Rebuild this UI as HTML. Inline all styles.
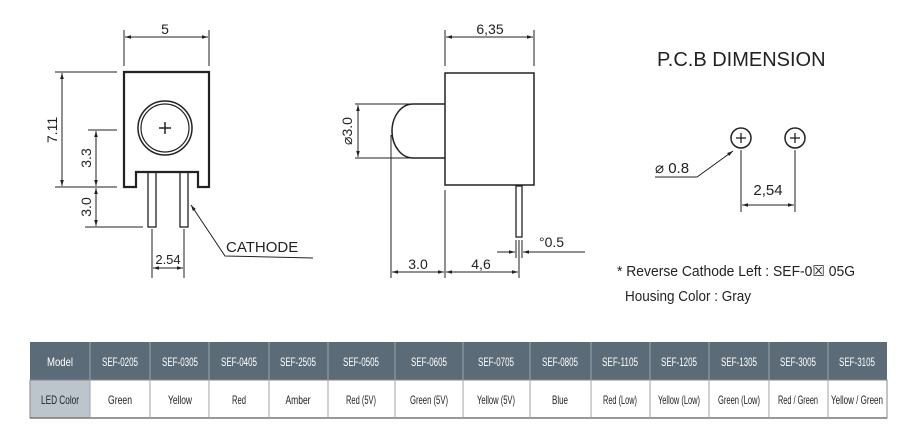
<!DOCTYPE html>
<html><head><meta charset="utf-8"><style>
html,body{margin:0;padding:0;background:#fff;width:907px;height:445px;overflow:hidden}
svg{display:block}
text{font-family:"Liberation Sans",sans-serif;fill:#222}
.t{font-family:"Liberation Sans Narrow","Liberation Sans",sans-serif}
</style></head><body>
<svg width="907" height="445" viewBox="0 0 907 445" xmlns="http://www.w3.org/2000/svg">
<defs>
<marker id="a" viewBox="0 0 10 10" refX="10" refY="5" markerWidth="8" markerHeight="6" orient="auto-start-reverse"><path d="M0,2 L10,5 L0,8 z" fill="#222"/></marker>
</defs>
<g stroke="#222" fill="none" stroke-width="1">
<!-- FRONT VIEW -->
<line x1="124" y1="30" x2="124" y2="66"/><line x1="209" y1="30" x2="209" y2="66"/>
<line x1="125" y1="37" x2="208" y2="37" marker-start="url(#a)" marker-end="url(#a)"/>
<path d="M124,72 H209 V187 H198 V172 H136 V187 H124 Z" stroke-width="2.2"/>
<circle cx="165" cy="128" r="27" stroke-width="1.5"/><circle cx="165" cy="128" r="24" stroke-width="1.2"/>
<line x1="159" y1="128" x2="171" y2="128" stroke-width="1.5"/><line x1="165" y1="122" x2="165" y2="134" stroke-width="1.5"/>
<rect x="148" y="172" width="8" height="55" stroke-width="1.3"/><rect x="180" y="172" width="8" height="55" stroke-width="1.3"/>
<line x1="55" y1="72" x2="117" y2="72"/><line x1="55" y1="187" x2="117" y2="187"/>
<line x1="62" y1="73" x2="62" y2="186" marker-start="url(#a)" marker-end="url(#a)"/>
<line x1="88" y1="130" x2="117" y2="130"/>
<line x1="96" y1="131" x2="96" y2="186" marker-start="url(#a)" marker-end="url(#a)"/>
<line x1="85" y1="227" x2="143" y2="227"/>
<line x1="96" y1="188" x2="96" y2="226" marker-start="url(#a)" marker-end="url(#a)"/>
<line x1="152" y1="229" x2="152" y2="278"/><line x1="184" y1="229" x2="184" y2="278"/>
<line x1="153" y1="268" x2="183" y2="268" marker-start="url(#a)" marker-end="url(#a)"/>
<polyline points="191,205 225,256 313,258" marker-start="url(#a)"/>
<!-- SIDE VIEW -->
<line x1="445" y1="30" x2="445" y2="66"/><line x1="534" y1="30" x2="534" y2="66"/>
<line x1="446" y1="37" x2="533" y2="37" marker-start="url(#a)" marker-end="url(#a)"/>
<rect x="445" y="73" width="89" height="112" stroke-width="1.5"/>
<path d="M445,104 H413 A21,27 0 0 0 413,158 H445" stroke-width="1.5"/>
<rect x="516" y="186" width="6" height="51" stroke-width="1.3"/>
<line x1="355" y1="104" x2="413" y2="104"/><line x1="355" y1="158" x2="413" y2="158"/>
<line x1="358" y1="105" x2="358" y2="157" marker-start="url(#a)" marker-end="url(#a)"/>
<line x1="391" y1="135" x2="391" y2="278"/><line x1="445" y1="190" x2="445" y2="278"/>
<line x1="519" y1="240" x2="519" y2="278"/>
<line x1="392" y1="272" x2="444" y2="272" marker-start="url(#a)" marker-end="url(#a)"/>
<line x1="446" y1="272" x2="518" y2="272" marker-start="url(#a)" marker-end="url(#a)"/>
<line x1="516" y1="240" x2="516" y2="258"/><line x1="522" y1="240" x2="522" y2="258"/>
<line x1="497" y1="252" x2="515" y2="252" marker-end="url(#a)"/>
<line x1="585" y1="252" x2="523" y2="252" marker-end="url(#a)"/>
<!-- PCB -->
<circle cx="741" cy="138" r="10" stroke-width="1.5"/><circle cx="795" cy="138" r="10" stroke-width="1.5"/>
<line x1="736" y1="138" x2="746" y2="138" stroke-width="1.3"/><line x1="741" y1="133" x2="741" y2="143" stroke-width="1.3"/>
<line x1="790" y1="138" x2="800" y2="138" stroke-width="1.3"/><line x1="795" y1="133" x2="795" y2="143" stroke-width="1.3"/>
<line x1="741" y1="150" x2="741" y2="212"/><line x1="795" y1="150" x2="795" y2="212"/>
<line x1="742" y1="205" x2="794" y2="205" marker-start="url(#a)" marker-end="url(#a)"/>
<polyline points="655,177 697,177 733,151" marker-end="url(#a)"/>
</g>
<text x="165" y="34" font-size="14" text-anchor="middle">5</text>
<text x="0" y="0" font-size="14" transform="translate(57,130) rotate(-90)" text-anchor="middle">7.11</text>
<text x="0" y="0" font-size="14" transform="translate(91,158) rotate(-90)" text-anchor="middle">3.3</text>
<text x="0" y="0" font-size="14" transform="translate(91,207) rotate(-90)" text-anchor="middle">3.0</text>
<text x="168" y="264" font-size="13" text-anchor="middle">2.54</text>
<text x="226" y="252" font-size="15">CATHODE</text>
<text x="490" y="34" font-size="14" text-anchor="middle">6,35</text>
<text x="0" y="0" font-size="14" transform="translate(352,131) rotate(-90)" text-anchor="middle">⌀3.0</text>
<text x="418" y="269" font-size="14" text-anchor="middle">3.0</text>
<text x="481" y="269" font-size="14" text-anchor="middle">4,6</text>
<text x="539" y="247" font-size="14">°0.5</text>
<text x="657" y="66" font-size="20">P.C.B DIMENSION</text>
<text x="655" y="173" font-size="15">⌀ 0.8</text>
<text x="768" y="195" font-size="15" text-anchor="middle">2,54</text>
<text class="t" x="617" y="276" font-size="15" textLength="238" lengthAdjust="spacingAndGlyphs">* Reverse Cathode Left : SEF-0☒ 05G</text>
<text class="t" x="625" y="301" font-size="15" textLength="126" lengthAdjust="spacingAndGlyphs">Housing Color : Gray</text>
<!-- TABLE -->
<rect x="30" y="342" width="857" height="38" fill="#5b6b77"/>
<rect x="30" y="380" width="60" height="38" fill="#bcc5cc"/>
<rect x="30" y="380" width="857" height="38" fill="none" stroke="#888" stroke-width="1"/>
<line x1="30" y1="418" x2="887" y2="418" stroke="#777" stroke-width="1.5"/>
<g stroke="#9aa5ad" stroke-width="1">
<line x1="90" y1="342" x2="90" y2="418"/><line x1="150" y1="342" x2="150" y2="418"/><line x1="209" y1="342" x2="209" y2="418"/><line x1="269" y1="342" x2="269" y2="418"/><line x1="328" y1="342" x2="328" y2="418"/><line x1="395" y1="342" x2="395" y2="418"/><line x1="463" y1="342" x2="463" y2="418"/><line x1="530" y1="342" x2="530" y2="418"/><line x1="591" y1="342" x2="591" y2="418"/><line x1="650" y1="342" x2="650" y2="418"/><line x1="709" y1="342" x2="709" y2="418"/><line x1="769" y1="342" x2="769" y2="418"/><line x1="828" y1="342" x2="828" y2="418"/>
</g>
<g class="t" font-size="12" text-anchor="middle" style="fill:#fff">
<text x="60" y="366" style="fill:#fff" textLength="26" lengthAdjust="spacingAndGlyphs">Model</text>
<text x="120" y="366" style="fill:#fff" textLength="36" lengthAdjust="spacingAndGlyphs">SEF-0205</text>
<text x="180" y="366" style="fill:#fff" textLength="36" lengthAdjust="spacingAndGlyphs">SEF-0305</text>
<text x="239" y="366" style="fill:#fff" textLength="36" lengthAdjust="spacingAndGlyphs">SEF-0405</text>
<text x="298" y="366" style="fill:#fff" textLength="36" lengthAdjust="spacingAndGlyphs">SEF-2505</text>
<text x="361" y="366" style="fill:#fff" textLength="36" lengthAdjust="spacingAndGlyphs">SEF-0505</text>
<text x="429" y="366" style="fill:#fff" textLength="36" lengthAdjust="spacingAndGlyphs">SEF-0605</text>
<text x="496" y="366" style="fill:#fff" textLength="36" lengthAdjust="spacingAndGlyphs">SEF-0705</text>
<text x="560" y="366" style="fill:#fff" textLength="36" lengthAdjust="spacingAndGlyphs">SEF-0805</text>
<text x="620" y="366" style="fill:#fff" textLength="36" lengthAdjust="spacingAndGlyphs">SEF-1105</text>
<text x="679" y="366" style="fill:#fff" textLength="36" lengthAdjust="spacingAndGlyphs">SEF-1205</text>
<text x="739" y="366" style="fill:#fff" textLength="36" lengthAdjust="spacingAndGlyphs">SEF-1305</text>
<text x="798" y="366" style="fill:#fff" textLength="36" lengthAdjust="spacingAndGlyphs">SEF-3005</text>
<text x="857" y="366" style="fill:#fff" textLength="36" lengthAdjust="spacingAndGlyphs">SEF-3105</text>
</g>
<g class="t" font-size="12" text-anchor="middle">
<text x="60" y="404" textLength="38" lengthAdjust="spacingAndGlyphs">LED Color</text>
<text x="120" y="404" textLength="24" lengthAdjust="spacingAndGlyphs">Green</text>
<text x="180" y="404" textLength="24" lengthAdjust="spacingAndGlyphs">Yellow</text>
<text x="239" y="404" textLength="14" lengthAdjust="spacingAndGlyphs">Red</text>
<text x="298" y="404" textLength="25" lengthAdjust="spacingAndGlyphs">Amber</text>
<text x="361" y="404" textLength="30" lengthAdjust="spacingAndGlyphs">Red (5V)</text>
<text x="429" y="404" textLength="38" lengthAdjust="spacingAndGlyphs">Green (5V)</text>
<text x="496" y="404" textLength="38" lengthAdjust="spacingAndGlyphs">Yellow (5V)</text>
<text x="560" y="404" textLength="16" lengthAdjust="spacingAndGlyphs">Blue</text>
<text x="620" y="404" textLength="34" lengthAdjust="spacingAndGlyphs">Red (Low)</text>
<text x="679" y="404" textLength="42" lengthAdjust="spacingAndGlyphs">Yellow (Low)</text>
<text x="739" y="404" textLength="42" lengthAdjust="spacingAndGlyphs">Green (Low)</text>
<text x="798" y="404" textLength="40" lengthAdjust="spacingAndGlyphs">Red / Green</text>
<text x="857" y="404" textLength="52" lengthAdjust="spacingAndGlyphs">Yellow / Green</text>
</g>
</svg>
</body></html>
